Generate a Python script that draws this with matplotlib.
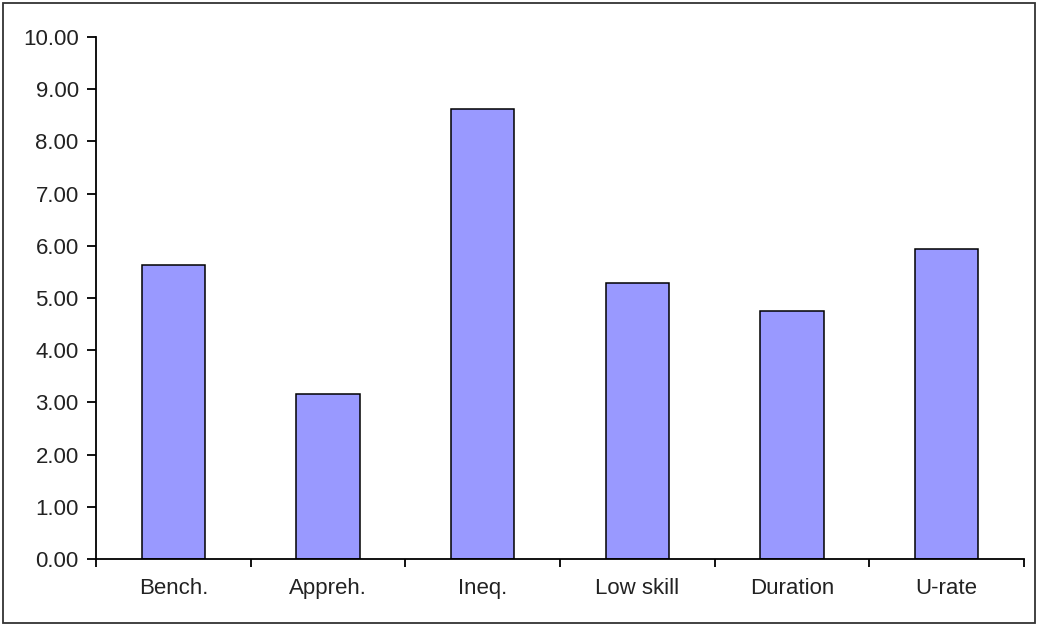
import matplotlib
matplotlib.use("Agg")
import matplotlib.pyplot as plt
from matplotlib.patches import Rectangle
from matplotlib.ticker import FixedLocator, FormatStrFormatter

categories = ["Bench.", "Appreh.", "Ineq.", "Low skill", "Duration", "U-rate"]
values = [5.63, 3.16, 8.62, 5.28, 4.75, 5.93]
y_ticks = [0, 1, 2, 3, 4, 5, 6, 7, 8, 9, 10]

plt.rcParams["font.family"] = ["Liberation Sans", "DejaVu Sans"]

fig = plt.figure(figsize=(10.38, 6.25), dpi=100)
fig.patch.set_facecolor("white")

# outer chart frame
fig.patches.append(Rectangle((0.003, 0.004), 0.994, 0.992, transform=fig.transFigure,
                             fill=False, edgecolor="#333333", linewidth=1.3))

ax = fig.add_axes([0.0925, 0.1056, 0.894, 0.8352])
x = list(range(len(categories)))
ax.bar(x, values, width=0.41, color="#9999FF", edgecolor="black", linewidth=1.1, zorder=2)

ax.set_xlim(-0.5, len(categories) - 0.5)
ax.set_ylim(0, 10)

ax.spines["top"].set_visible(False)
ax.spines["right"].set_visible(False)
for s in ("left", "bottom"):
    ax.spines[s].set_linewidth(1.3)

ax.yaxis.set_major_locator(FixedLocator(y_ticks))
ax.yaxis.set_major_formatter(FormatStrFormatter("%.2f"))
ax.tick_params(axis="y", direction="out", length=6.5, width=1.3, pad=6, labelsize=16,
               labelcolor="#222222")

# category boundary ticks with labels centred under each bar
ax.set_xticks([i - 0.5 for i in range(len(categories) + 1)])
ax.set_xticklabels([])
ax.set_xticks(x, minor=True)
ax.set_xticklabels(categories, minor=True)
ax.tick_params(axis="x", which="major", direction="out", length=6, width=1.3)
ax.tick_params(axis="x", which="minor", length=0, pad=14, labelsize=16, labelcolor="#222222")

fig.savefig("out.png", dpi=100, facecolor="white")
